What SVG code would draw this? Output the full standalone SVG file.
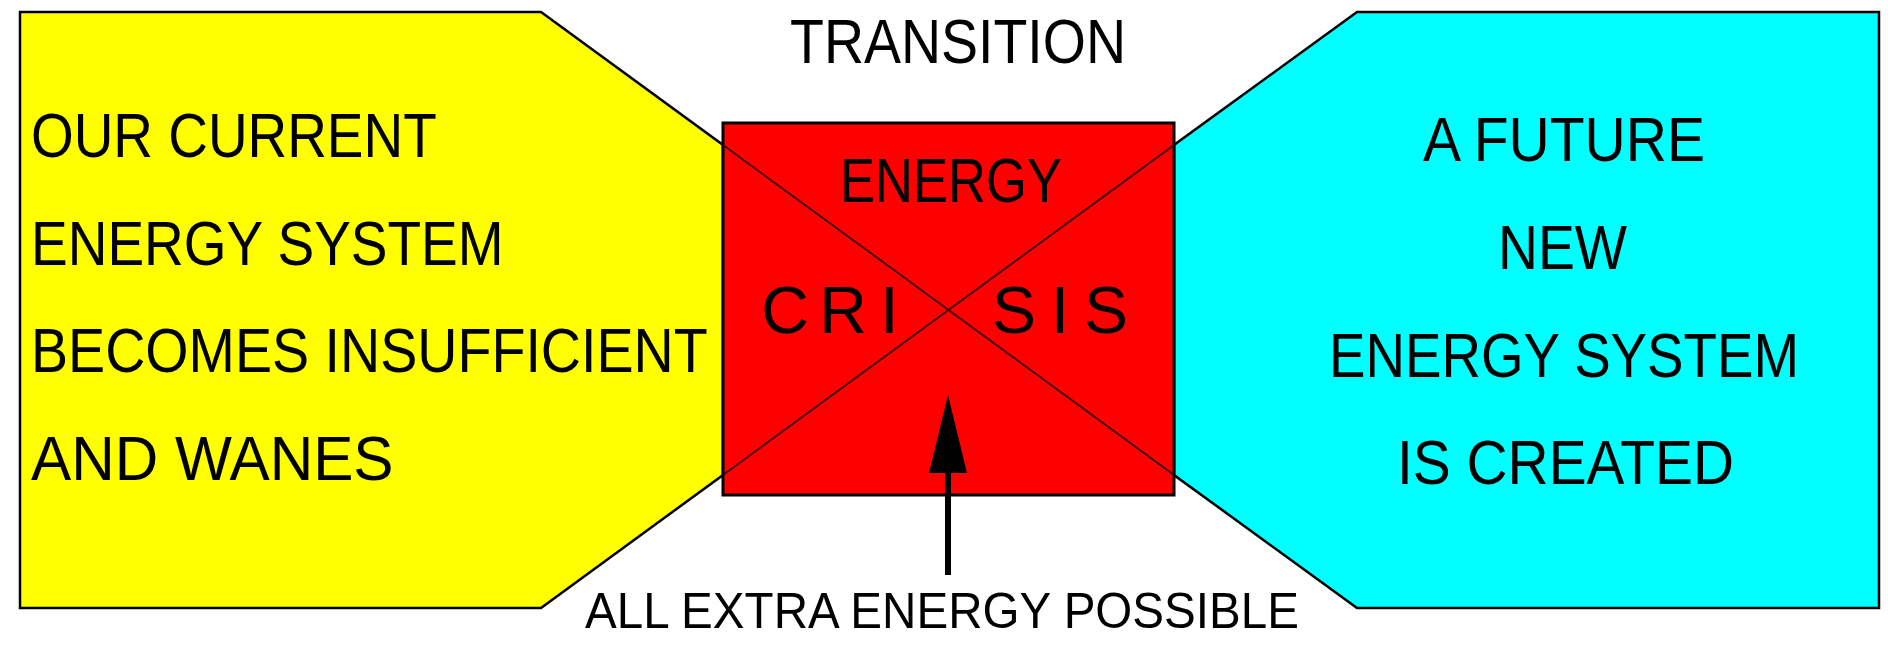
<svg xmlns="http://www.w3.org/2000/svg" width="1888" height="649" viewBox="0 0 1888 649">
<style>
  .t { font-family: "Liberation Sans", Arial, sans-serif; fill: #000; }
  .big { font-size: 63px; }
  .small { font-size: 50px; }
  .outline { stroke: #000; stroke-width: 2.5; stroke-linejoin: miter; }
  .xline { stroke: #3a0000; stroke-width: 1.8; fill: none; }
</style>
<defs>
  <marker id="ahead" markerUnits="userSpaceOnUse" markerWidth="78" markerHeight="38" refX="0" refY="19" orient="auto" viewBox="0 0 78 38">
    <path d="M0,0 L78,19 L0,38 Z" fill="#000"/>
  </marker>
</defs>
<rect width="1888" height="649" fill="#fff"/>
<g id="current-system">
  <polygon class="outline" fill="#ffff00" points="20,12 541,12 723,145 723,475 541,608 20,608"/>
  <g transform="translate(31,0) scale(0.88,1)">
    <text class="t big" x="0" y="157" textLength="461" lengthAdjust="spacingAndGlyphs">OUR CURRENT</text>
    <text class="t big" x="0" y="265" textLength="537" lengthAdjust="spacingAndGlyphs">ENERGY SYSTEM</text>
    <text class="t big" x="0" y="372" textLength="769" lengthAdjust="spacingAndGlyphs">BECOMES INSUFFICIENT</text>
    <text class="t big" x="0" y="480" textLength="412" lengthAdjust="spacingAndGlyphs">AND WANES</text>
  </g>
</g>
<g id="future-system">
  <polygon class="outline" fill="#00ffff" points="1357,12 1879,12 1879,608 1357,608 1174,475 1174,145"/>
  <text class="t big" x="1423" y="161" textLength="282" lengthAdjust="spacingAndGlyphs">A FUTURE</text>
  <text class="t big" x="1498" y="269" textLength="129" lengthAdjust="spacingAndGlyphs">NEW</text>
  <text class="t big" x="1329" y="377" textLength="470" lengthAdjust="spacingAndGlyphs">ENERGY SYSTEM</text>
  <text class="t big" x="1397" y="484" textLength="337" lengthAdjust="spacingAndGlyphs">IS CREATED</text>
</g>
<g id="energy-crisis">
  <rect x="723" y="123" width="451" height="372" fill="#ff0000" stroke="#000" stroke-width="3"/>
  <text class="t big" x="840" y="202" textLength="222" lengthAdjust="spacingAndGlyphs">ENERGY</text>
  <text class="t" style="font-size:66px" text-anchor="middle" x="785 843 889.5" y="333">CRI</text>
  <text class="t" style="font-size:66px" text-anchor="middle" x="1014 1060 1106" y="333">SIS</text>
</g>
<g id="transition-label">
  <text class="t big" x="790" y="63" textLength="336" lengthAdjust="spacingAndGlyphs">TRANSITION</text>
</g>
<g id="extra-energy-label">
  <text class="t small" x="585" y="628" textLength="714" lengthAdjust="spacingAndGlyphs">ALL EXTRA ENERGY POSSIBLE</text>
</g>
<g id="connectors">
  <line class="xline" x1="723" y1="145" x2="1174" y2="475"/>
  <line class="xline" x1="723" y1="475" x2="1174" y2="145"/>
  <line x1="948" y1="575" x2="948" y2="473" stroke="#000" stroke-width="6" marker-end="url(#ahead)"/>
</g>
</svg>
